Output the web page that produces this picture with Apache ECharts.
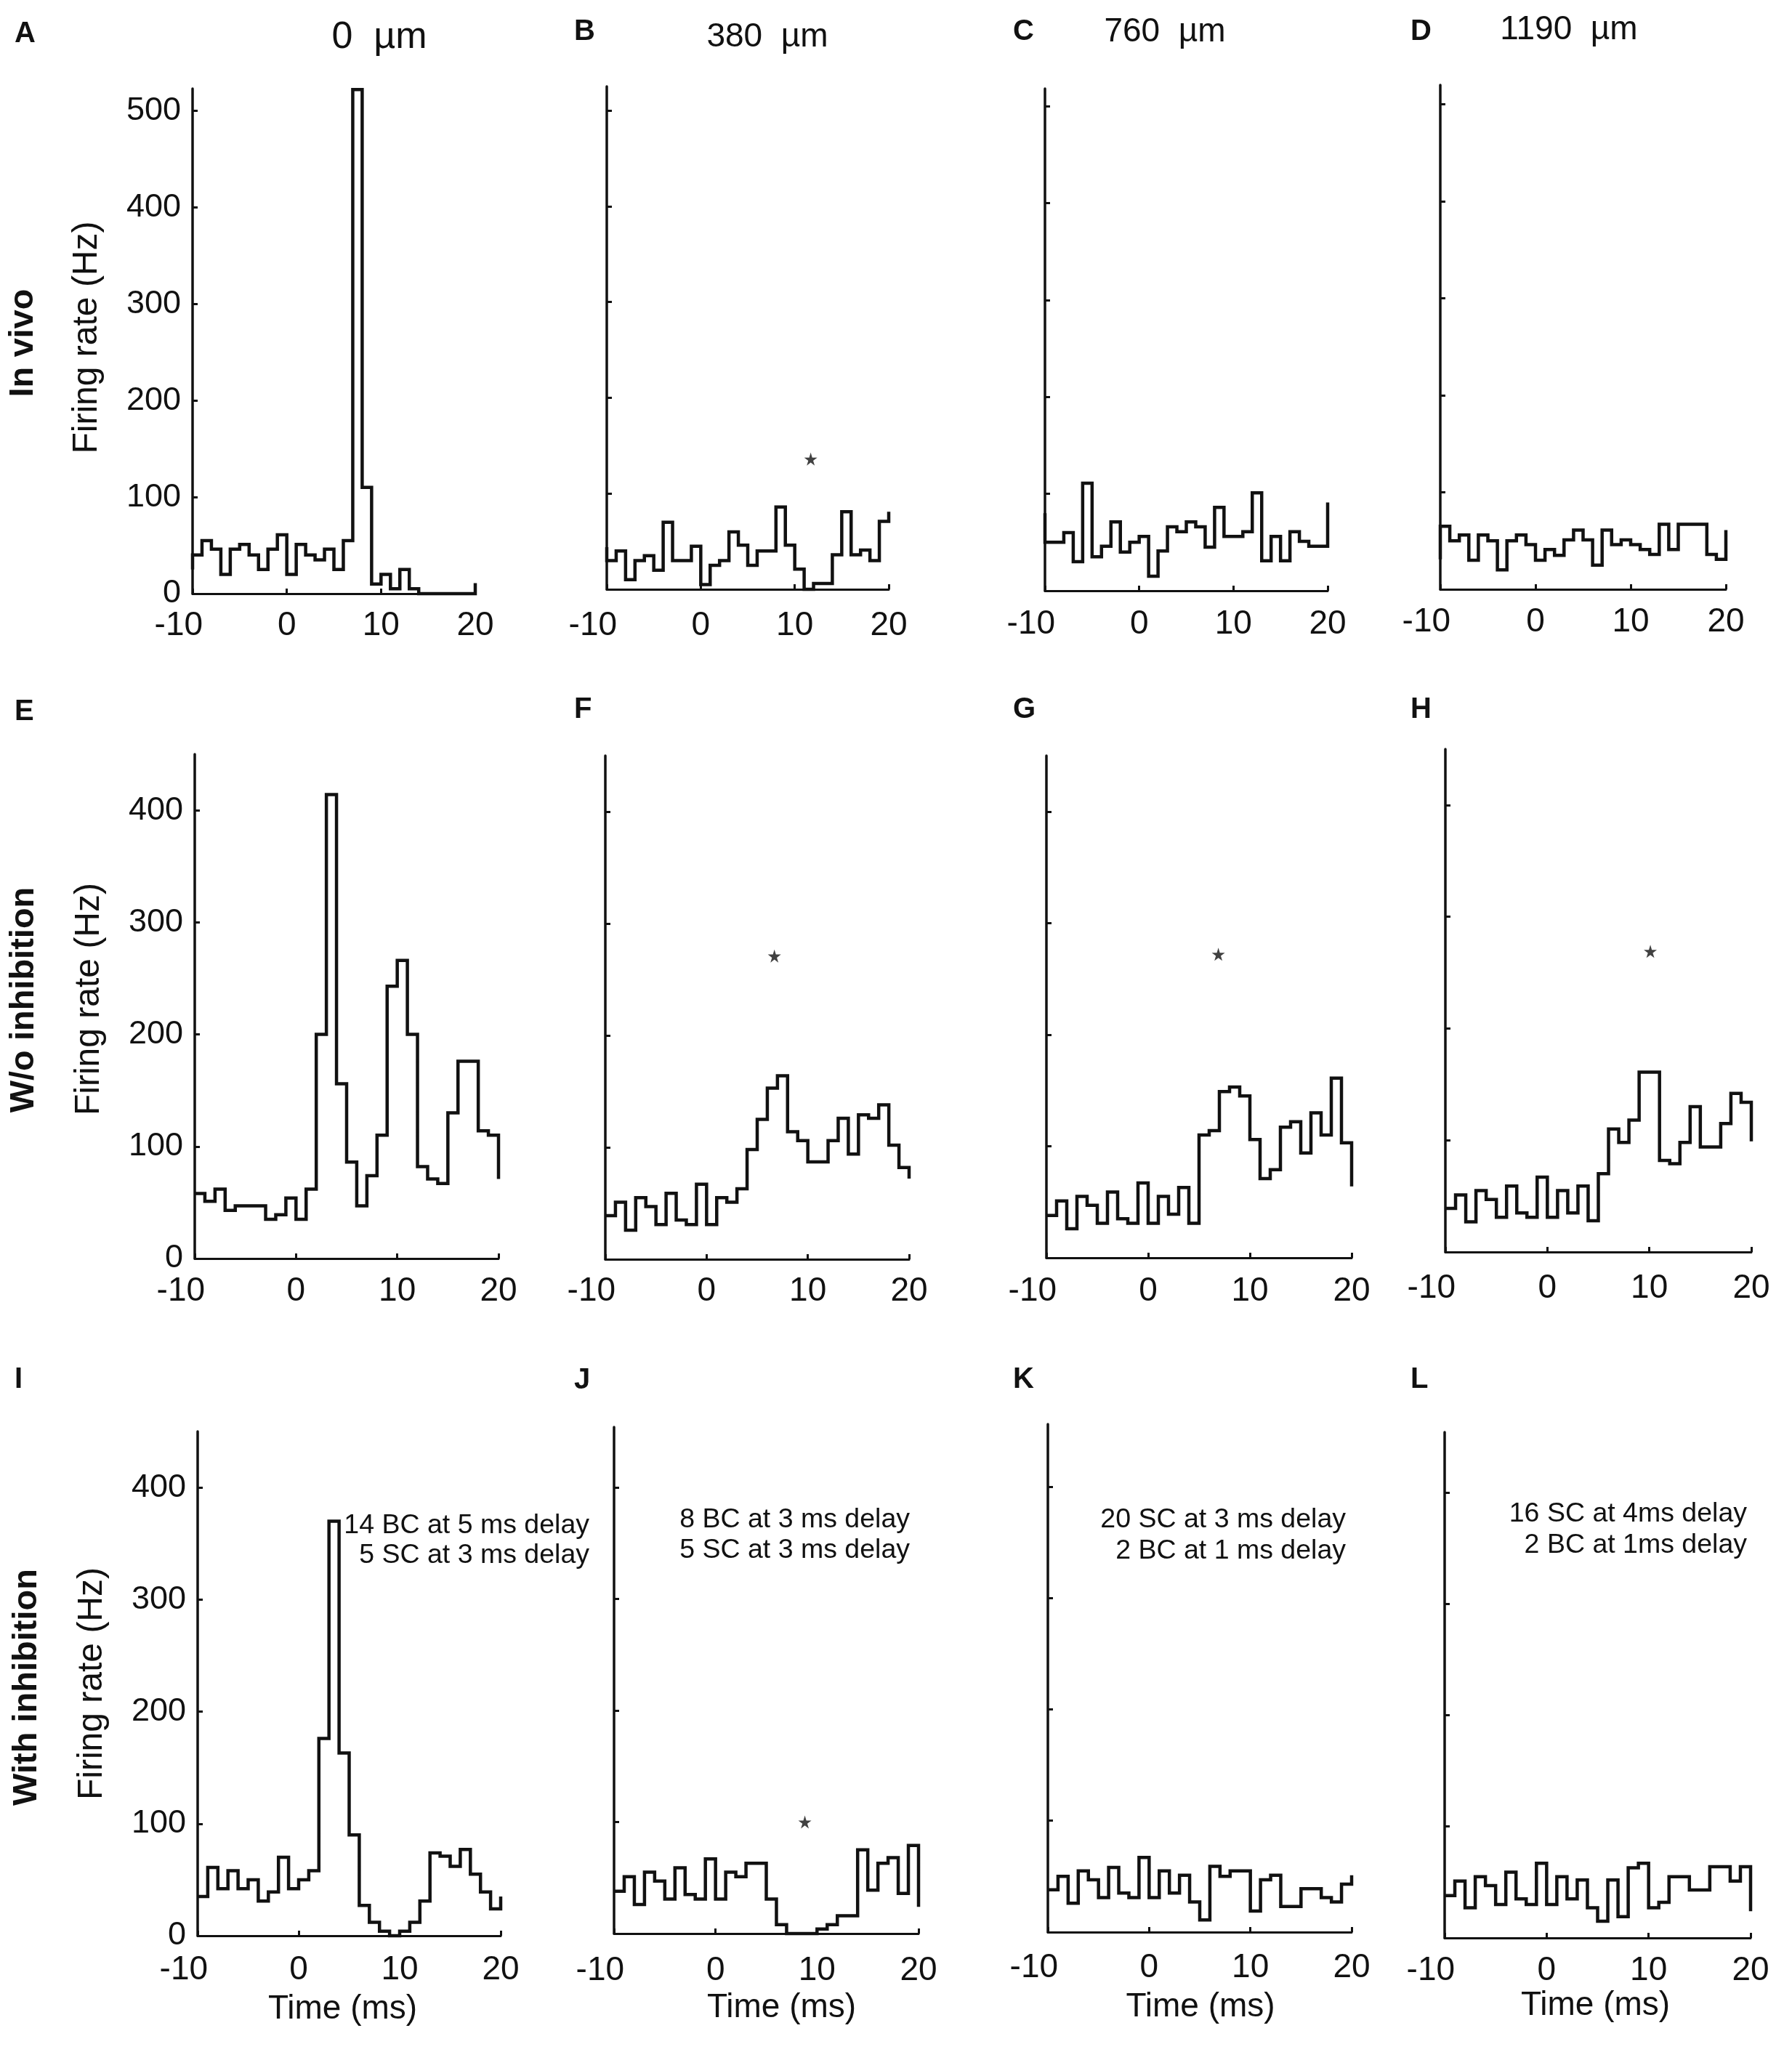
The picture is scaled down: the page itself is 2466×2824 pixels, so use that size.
<!DOCTYPE html>
<html>
<head>
<meta charset="utf-8">
<style>html,body{margin:0;padding:0;background:#fff}#main{width:2466px;height:2824px}</style>
<script src="https://cdn.jsdelivr.net/npm/echarts@6/dist/echarts.min.js"></script>
</head>
<body>
<div id="main"></div>
<script>
// bin edges in ms, the last value of each rate array is the closing step at 20 ms
var timeEdges = [-10,-9,-8,-7,-6,-5,-4,-3,-2,-1,0,1,2,3,4,5,6,7,8,9,10,11,12,13,14,15,16,17,18,19,20];

var rateA = [40,55,46,20,46,51,40,25,46,61,20,51,40,35,46,25,55,522,110,10,20,5,25,5,0,0,0,0,0,0,11];
var rateB = [30,40,10,30,35,20,70,30,30,45,5,25,30,60,46,25,40,40,86,46,21,0,6,6,36,81,36,41,30,71,81];
var rateC = [50,50,60,30,111,35,46,71,40,50,56,15,41,66,61,71,66,45,86,56,56,61,101,31,56,31,61,51,46,46,91];
var rateD = [65,50,56,30,56,50,20,50,56,46,30,41,35,51,61,51,25,61,46,51,46,41,36,67,41,67,67,67,36,31,61];
var rateE = [58,51,62,43,47,47,47,35,39,54,35,62,200,414,156,86,47,74,110,243,266,200,82,71,67,130,176,176,114,110,71];
var rateF = [39,51,26,55,47,31,59,35,31,67,31,55,51,63,98,125,153,164,114,106,87,87,106,126,94,129,126,138,102,82,72];
var rateG = [38,51,26,55,47,31,59,35,31,67,31,55,39,63,31,110,114,149,153,145,106,71,79,117,122,94,130,110,161,103,64];
var rateH = [39,51,27,55,47,31,59,35,31,67,31,55,35,59,28,70,110,98,118,161,161,82,79,98,130,94,94,115,142,134,99];
var rateI = [35,61,42,58,42,50,31,39,70,42,50,58,176,370,163,90,27,12,4,0,4,12,31,74,71,62,77,55,39,24,35];
var rateJ = [38,51,26,55,47,31,59,35,31,67,31,55,51,63,63,31,8,0,0,0,4,8,16,16,75,39,63,68,36,79,24];
var rateK = [38,50,26,55,47,31,58,35,31,67,31,55,35,51,27,11,59,50,55,55,19,47,51,23,23,39,39,31,27,43,51];
var rateL = [38,51,27,55,47,30,59,35,30,67,30,55,35,52,27,15,52,19,63,67,27,32,55,55,43,43,64,64,51,64,24];

// where the trace starts on the y axis, before the first bin
var startA = 25, startB = 44, startC = 80, startD = 31;

var starsB = [[11.7,136]];
var starsF = [[6.7,271]];
var starsG = [[6.9,272]];
var starsH = [[10.1,269]];
var starsJ = [[8.8,100]];

var ticksTop = [0,100,200,300,400,500];
var ticksLower = [0,100,200,300,400];

var FONT = '"Liberation Sans", Arial, sans-serif';
var INK = '#111';
var STAR = 'path://M50 0 L61 35 L98 35 L68 57 L79 91 L50 70 L21 91 L32 57 L2 35 L39 35 Z';

// l, r, t, b are pixel positions of x=-10, x=20, axis top and y=0
var panels = [
  {rate:rateA, start:startA, l:265,  r:654,  t:122,  b:817,  max:523, ticks:ticksTop, yLabels:true, pad:[0,0,0,10], gap:21},
  {rate:rateB, start:startB, l:835,  r:1223, t:119,  b:811,  max:525, ticks:ticksTop, gap:27, stars:starsB},
  {rate:rateC, start:startC, l:1438, r:1827, t:122,  b:813,  max:518, ticks:ticksTop, gap:23},
  {rate:rateD, start:startD, l:1982, r:2375, t:117,  b:811,  max:520, ticks:ticksTop, gap:22},
  {rate:rateE, l:268,  r:686,  t:1038, b:1732, max:450, ticks:ticksLower, yLabels:true, pad:[0,0,0,20], gap:22},
  {rate:rateF, l:833,  r:1251, t:1040, b:1733, max:450, ticks:ticksLower, gap:21, stars:starsF},
  {rate:rateG, l:1440, r:1860, t:1040, b:1731, max:450, ticks:ticksLower, gap:23, stars:starsG},
  {rate:rateH, l:1989, r:2410, t:1031, b:1723, max:450, ticks:ticksLower, gap:27, stars:starsH},
  {rate:rateI, l:272,  r:689,  t:1970, b:2664, max:450, ticks:ticksLower, yLabels:true, pad:[0,0,0,0], gap:24, xName:true, xGap:78, xPad:[0,18,0,0]},
  {rate:rateJ, l:845,  r:1264, t:1964, b:2661, max:454, ticks:ticksLower, gap:28, xName:true, xGap:79, xPad:[0,0,0,42], stars:starsJ},
  {rate:rateK, l:1442, r:1860, t:1960, b:2659, max:456, ticks:ticksLower, gap:26, xName:true, xGap:80, xPad:[0,0,0,2]},
  {rate:rateL, l:1988, r:2409, t:1971, b:2667, max:454, ticks:ticksLower, gap:22, xName:true, xGap:70, xPad:[0,6,0,0]}
];

var grid = [], xAxis = [], yAxis = [], series = [];

panels.forEach(function (p, i) {
  grid.push({left:p.l, top:p.t, width:p.r - p.l, height:p.b - p.t, containLabel:false});

  xAxis.push({
    type:'value', gridIndex:i, min:-10, max:20, interval:10,
    splitLine:{show:false},
    axisLine:{onZero:false, lineStyle:{color:INK, width:3}},
    axisTick:{inside:true, length:7, lineStyle:{color:INK, width:3}},
    axisLabel:{
      fontFamily:FONT, fontSize:46, color:INK, margin:p.gap,
      // the printed -10 sits left of its tick
      formatter:function (v) { return v === -10 ? '-10   ' : String(v); }
    },
    name:p.xName ? 'Time (ms)' : '',
    nameLocation:'middle', nameGap:p.xGap, nameMoveOverlap:false,
    nameTextStyle:{fontFamily:FONT, fontSize:46, color:INK, padding:p.xPad || 0}
  });

  yAxis.push({
    type:'value', gridIndex:i, min:0, max:p.max,
    splitLine:{show:false},
    axisLine:{onZero:false, lineStyle:{color:INK, width:3.5}},
    axisTick:{inside:true, length:7, customValues:p.ticks, lineStyle:{color:INK, width:3}},
    axisLabel:{show:!!p.yLabels, customValues:p.ticks, fontFamily:FONT, fontSize:45, color:INK, margin:16},
    name:p.yLabels ? 'Firing rate (Hz)' : '',
    nameLocation:'middle', nameGap:121, nameMoveOverlap:false,
    nameTextStyle:{fontFamily:FONT, fontSize:48, color:INK, padding:p.pad || 0}
  });

  var line = timeEdges.map(function (t, k) { return [t, p.rate[k]]; });
  if (p.start !== undefined) line.unshift([-10, p.start]);
  series.push({
    type:'line', xAxisIndex:i, yAxisIndex:i, step:'end', data:line,
    showSymbol:false, clip:false, silent:true,
    lineStyle:{color:INK, width:4.5, join:'miter'}
  });

  if (p.stars) {
    series.push({
      type:'scatter', xAxisIndex:i, yAxisIndex:i, data:p.stars,
      symbol:STAR, symbolSize:18, itemStyle:{color:INK}, silent:true
    });
  }
});

function txt(x, y, text, size, opts) {
  opts = opts || {};
  return {
    type:'text', x:x, y:y, rotation:opts.rot || 0, silent:true,
    style:{
      text:text, fill:INK, align:opts.align || 'left', verticalAlign:'middle',
      font:(opts.bold ? 'bold ' : '') + size + 'px ' + FONT
    }
  };
}

var letters = [['A',20,47],['B',790,44],['C',1394,44],['D',1941,44],
  ['E',20,980],['F',790,977],['G',1394,977],['H',1941,977],
  ['I',20,1899],['J',790,1900],['K',1394,1899],['L',1941,1899]];

var graphic = letters.map(function (a) { return txt(a[1], a[2], a[0], 40, {bold:true}); });

graphic.push(txt(522, 52, '0  µm', 52, {align:'center'}));
graphic.push(txt(1056, 51, '380  µm', 46, {align:'center'}));
graphic.push(txt(1603, 44, '760  µm', 46, {align:'center'}));
graphic.push(txt(2159, 41, '1190  µm', 46, {align:'center'}));

graphic.push(txt(32, 472, 'In vivo', 47, {bold:true, align:'center', rot:Math.PI / 2}));
graphic.push(txt(33, 1376, 'W/o inhibition', 47, {bold:true, align:'center', rot:Math.PI / 2}));
graphic.push(txt(37, 2322, 'With inhibition', 47, {bold:true, align:'center', rot:Math.PI / 2}));

graphic.push(txt(811, 2100, '14 BC at 5 ms delay', 37.5, {align:'right'}));
graphic.push(txt(811, 2141, '5 SC at 3 ms delay', 37.5, {align:'right'}));
graphic.push(txt(1252, 2092, '8 BC at 3 ms delay', 37.5, {align:'right'}));
graphic.push(txt(1252, 2134, '5 SC at 3 ms delay', 37.5, {align:'right'}));
graphic.push(txt(1852, 2092, '20 SC at 3 ms delay', 37.5, {align:'right'}));
graphic.push(txt(1852, 2135, '2 BC at 1 ms delay', 37.5, {align:'right'}));
graphic.push(txt(2404, 2084, '16 SC at 4ms delay', 37.5, {align:'right'}));
graphic.push(txt(2404, 2127, '2 BC at 1ms delay', 37.5, {align:'right'}));

var myChart = echarts.init(document.getElementById('main'));
myChart.setOption({
  animation:false,
  backgroundColor:'#fff',
  grid:grid, xAxis:xAxis, yAxis:yAxis, series:series, graphic:graphic
});
</script>
</body>
</html>
